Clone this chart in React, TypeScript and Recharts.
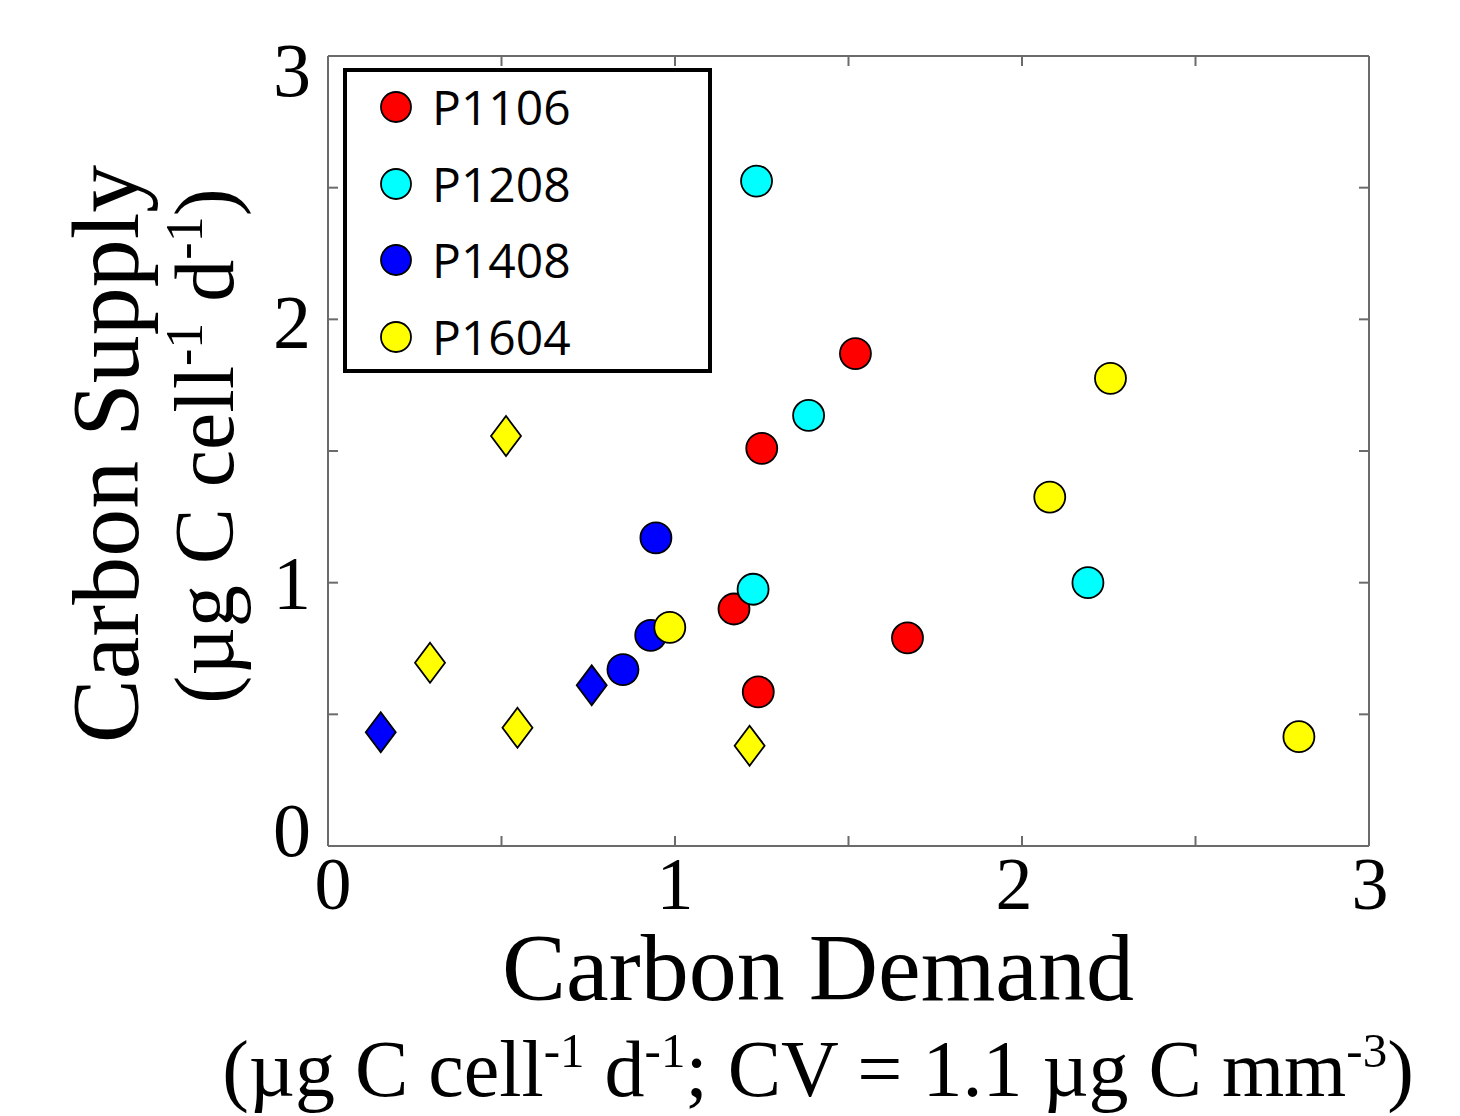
import React from 'react';
import { ScatterChart, Scatter, XAxis, YAxis, Legend } from 'recharts';

// ---- data ----
const p1106Demand = [1.52, 1.25, 1.17, 1.67, 1.24];
const p1106Supply = [1.87, 1.51, 0.90, 0.79, 0.585];

const p1208Demand = [1.235, 1.385, 1.225, 2.19];
const p1208Supply = [2.525, 1.635, 0.975, 1.0];

const p1408CircleDemand = [0.945, 0.93, 0.85];
const p1408CircleSupply = [1.17, 0.80, 0.67];
const p1408DiamondDemand = [0.76, 0.152];
const p1408DiamondSupply = [0.61, 0.432];

const p1604CircleDemand = [0.985, 2.255, 2.08, 2.798];
const p1604CircleSupply = [0.83, 1.776, 1.325, 0.415];
const p1604DiamondDemand = [0.513, 0.294, 0.546, 1.215];
const p1604DiamondSupply = [1.557, 0.696, 0.449, 0.381];

const axisTicks = [0, 0.5, 1, 1.5, 2, 2.5, 3];
const labelledTicks = [0, 1, 2, 3];

const seriesNames = ['P1106', 'P1208', 'P1408', 'P1604'];
const seriesColors = ['#FF0000', '#00FFFF', '#0000FF', '#FFFF00'];

const toPoints = (xs: number[], ys: number[]) => xs.map((x, i) => ({ x, y: ys[i] }));

// ---- layout constants ----
const W = 1460;
const H = 1116;
const LEFT = 328;
const TOP = 56;
const RIGHT = 1369;
const BOTTOM = 846;
const AX = 1; // axis band thickness

const FRAME = '#6b6b6b';
const SERIF = '"Liberation Serif", "Times New Roman", serif';
const SANS = '"Open Sans", "Noto Sans", sans-serif';

const CircleShape = (props: any) => {
  const { cx, cy, fill } = props;
  if (cx == null || cy == null) return null;
  return <circle cx={cx} cy={cy} r={15.5} fill={fill} stroke="#000" strokeWidth={1.8} />;
};

const DiamondShape = (props: any) => {
  const { cx, cy, fill } = props;
  if (cx == null || cy == null) return null;
  const pts = `${cx},${cy - 20} ${cx + 15},${cy} ${cx},${cy + 20} ${cx - 15},${cy}`;
  return <polygon points={pts} fill={fill} stroke="#000" strokeWidth={1.8} />;
};

const yLabelShift: Record<number, number> = { 3: 14, 2: 3, 1: 0, 0: -16 };
const xLabelShift: Record<number, number> = { 0: 5, 1: 0, 2: -8, 3: 1 };

const BottomTick = (props: any) => {
  const { x, payload } = props;
  const v = payload.value;
  const y = BOTTOM;
  return (
    <g>
      <line x1={x} x2={x} y1={y} y2={y - 10} stroke={FRAME} strokeWidth={2} />
      {labelledTicks.includes(v) && (
        <text x={x + (xLabelShift[v] || 0)} y={y + 63} textAnchor="middle" fontFamily={SERIF} fontSize={74} fill="#000">
          {v}
        </text>
      )}
    </g>
  );
};

const TopTick = (props: any) => {
  const { x } = props;
  const y = TOP;
  return <line x1={x} x2={x} y1={y} y2={y + 10} stroke={FRAME} strokeWidth={2} />;
};

const LeftTick = (props: any) => {
  const { y, payload } = props;
  const v = payload.value;
  const x = LEFT;
  return (
    <g>
      <line x1={x} x2={x + 10} y1={y} y2={y} stroke={FRAME} strokeWidth={2} />
      {labelledTicks.includes(v) && (
        <text x={x - 17} y={y + (yLabelShift[v] || 0) + 26} textAnchor="end" fontFamily={SERIF} fontSize={76} fill="#000">
          {v}
        </text>
      )}
    </g>
  );
};

const RightTick = (props: any) => {
  const { y } = props;
  const x = RIGHT;
  return <line x1={x} x2={x - 10} y1={y} y2={y} stroke={FRAME} strokeWidth={2} />;
};

const XTitle = () => {
  const cx = 818;
  const base = BOTTOM;
  return (
    <g fontFamily={SERIF} fill="#000">
      <text x={cx} y={base + 154} textAnchor="middle" fontSize={96}>Carbon Demand</text>
      <text x={cx} y={base + 250} textAnchor="middle" fontSize={80}>
        <tspan>(µg C cell</tspan>
        <tspan fontSize={49} dy={-29}>-1</tspan>
        <tspan dy={29}> d</tspan>
        <tspan fontSize={49} dy={-29}>-1</tspan>
        <tspan dy={29}>; CV = 1.1 µg C mm</tspan>
        <tspan fontSize={49} dy={-29}>-3</tspan>
        <tspan dy={29}>)</tspan>
      </text>
    </g>
  );
};

const YTitle = () => {
  const cy1 = 454;
  const cy2 = 446;
  return (
    <g fontFamily={SERIF} fill="#000">
      <text x={138} y={cy1} textAnchor="middle" fontSize={96} transform={`rotate(-90 138 ${cy1})`}>
        Carbon Supply
      </text>
      <text x={233} y={cy2} textAnchor="middle" fontSize={84} transform={`rotate(-90 233 ${cy2})`}>
        <tspan>(µg C cell</tspan>
        <tspan fontSize={52} dy={-31}>-1</tspan>
        <tspan dy={31}> d</tspan>
        <tspan fontSize={52} dy={-31}>-1</tspan>
        <tspan dy={31}>)</tspan>
      </text>
    </g>
  );
};

const LegendBox = (props: any) => {
  const payload = (props.payload || []).filter((p: any) => seriesNames.includes(p.value));
  return (
    <div
      style={{
        boxSizing: 'border-box',
        width: 369,
        height: 305,
        border: '4px solid #000',
        background: '#fff',
        position: 'relative',
      }}
    >
      {payload.map((p: any, i: number) => (
        <div key={p.value} style={{ position: 'absolute', left: 0, top: 5 + i * 76.7, height: 60, display: 'flex', alignItems: 'center' }}>
          <svg width={110} height={60} style={{ display: 'block' }}>
            <circle cx={49} cy={30} r={15} fill={p.color} stroke="#000" strokeWidth={1.8} />
          </svg>
          <span style={{ fontFamily: SANS, fontSize: 48, color: '#000', marginLeft: -25, lineHeight: '60px' }}>{p.value}</span>
        </div>
      ))}
    </div>
  );
};

export default function App() {
  const mainSeries = [
    toPoints(p1106Demand, p1106Supply),
    toPoints(p1208Demand, p1208Supply),
    toPoints(p1408CircleDemand, p1408CircleSupply),
    toPoints(p1604CircleDemand, p1604CircleSupply),
  ];
  return (
    <div style={{ position: 'absolute', left: 0, top: 0, width: W, height: H, background: '#fff' }}>
      <ScatterChart
        width={W}
        height={H}
        margin={{ top: TOP - AX, left: LEFT - AX, right: W - RIGHT - AX, bottom: H - BOTTOM - AX }}
      >
        <XAxis
          xAxisId="b"
          type="number"
          dataKey="x"
          domain={[0, 3]}
          ticks={axisTicks}
          interval={0}
          height={AX}
          tickSize={0}
          tickMargin={0}
          axisLine={{ stroke: FRAME, strokeWidth: 2 }}
          tickLine={false}
          tick={<BottomTick />}
          label={<XTitle />}
          allowDataOverflow
        />
        <XAxis
          xAxisId="t"
          orientation="top"
          type="number"
          dataKey="x"
          domain={[0, 3]}
          ticks={axisTicks}
          interval={0}
          height={AX}
          tickSize={0}
          tickMargin={0}
          axisLine={{ stroke: FRAME, strokeWidth: 2 }}
          tickLine={false}
          tick={<TopTick />}
          allowDataOverflow
        />
        <YAxis
          yAxisId="l"
          type="number"
          dataKey="y"
          domain={[0, 3]}
          ticks={axisTicks}
          interval={0}
          width={AX}
          tickSize={0}
          tickMargin={0}
          axisLine={{ stroke: FRAME, strokeWidth: 2 }}
          tickLine={false}
          tick={<LeftTick />}
          label={<YTitle />}
          allowDataOverflow
        />
        <YAxis
          yAxisId="r"
          orientation="right"
          type="number"
          dataKey="y"
          domain={[0, 3]}
          ticks={axisTicks}
          interval={0}
          width={AX}
          tickSize={0}
          tickMargin={0}
          axisLine={{ stroke: FRAME, strokeWidth: 2 }}
          tickLine={false}
          tick={<RightTick />}
          allowDataOverflow
        />
        {mainSeries.map((data, i) => (
          <Scatter
            key={seriesNames[i]}
            name={seriesNames[i]}
            data={data}
            xAxisId="b"
            yAxisId="l"
            fill={seriesColors[i]}
            shape={<CircleShape />}
            isAnimationActive={false}
          />
        ))}
        <Scatter
          name="P1408 diamonds"
          data={toPoints(p1408DiamondDemand, p1408DiamondSupply)}
          xAxisId="b"
          yAxisId="l"
          fill={seriesColors[2]}
          shape={<DiamondShape />}
          legendType="none"
          isAnimationActive={false}
        />
        <Scatter
          name="P1604 diamonds"
          data={toPoints(p1604DiamondDemand, p1604DiamondSupply)}
          xAxisId="b"
          yAxisId="l"
          fill={seriesColors[3]}
          shape={<DiamondShape />}
          legendType="none"
          isAnimationActive={false}
        />
        <Legend
          layout="vertical"
          align="center"
          verticalAlign="middle"
          content={<LegendBox />}
          wrapperStyle={{ position: 'absolute', left: 343, top: 68, width: 369, height: 305 }}
        />
      </ScatterChart>
    </div>
  );
}
